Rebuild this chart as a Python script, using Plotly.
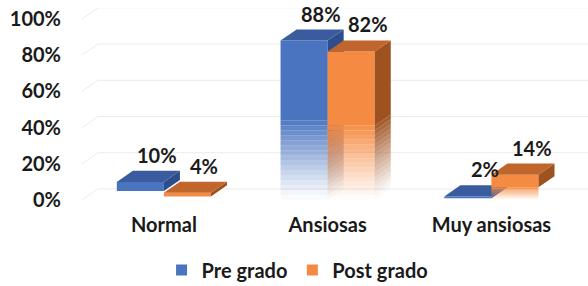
import plotly.graph_objects as go

# ---------------- data ----------------
categories = ["Normal", "Ansiosas", "Muy ansiosas"]
pre_grado = [10, 88, 2]
post_grado = [4, 82, 14]
series_names = ["Pre grado", "Post grado"]
y_ticks = [0, 20, 40, 60, 80, 100]
y_tick_labels = ["0%", "20%", "40%", "60%", "80%", "100%"]

# ---------------- style ----------------
FONT = "Lato"
FS = 20
BAR_W = 0.2875      # width of one bar (category units)
DX = 0.098          # 3D depth, x (category units)
DY = 6.1            # 3D depth, y (percent units)
K = 16              # gradient steps
COLORS = [
    {"front": (74, 116, 192), "top": (58, 92, 158), "side": (45, 78, 140)},
    {"front": (245, 139, 66), "top": (192, 101, 44), "side": (158, 82, 32)},
]


def rgba(c, a=1.0):
    return f"rgba({c[0]},{c[1]},{c[2]},{a:.3f})"


def poly_trace(polys, color):
    xs, ys = [], []
    for px, py in polys:
        xs += px + [px[0], None]
        ys += py + [py[0], None]
    return go.Scatter(x=xs, y=ys, mode="lines", line=dict(width=0),
                      fill="toself", fillcolor=color, hoverinfo="skip",
                      showlegend=False)


fig = go.Figure()

# back-wall gridlines (perspective)
gx, gy = [], []
for t in y_ticks:
    gx += [-0.5, -0.5 + DX, 2.6, None]
    gy += [t, t + DY, t + DY, None]
fig.add_trace(go.Scatter(x=gx, y=gy, mode="lines",
                         line=dict(color="#ebebeb", width=1),
                         hoverinfo="skip", showlegend=False))

all_values = [pre_grado, post_grado]
for s, values in enumerate(all_values):
    col = COLORS[s]
    offset = -BAR_W / 2 if s == 0 else BAR_W / 2
    xl = [i + offset - BAR_W / 2 for i in range(len(categories))]
    xr = [i + offset + BAR_W / 2 for i in range(len(categories))]
    # fading lower half: front + side segments
    for k in range(K):
        a = ((k + 0.6) / (K + 0.6)) ** 1.1
        fronts, sides = [], []
        for i, v in enumerate(values):
            y0 = v * k / (2 * K)
            y1 = v * (k + 1) / (2 * K)
            fronts.append(([xl[i], xr[i], xr[i], xl[i]], [y0, y0, y1, y1]))
            sides.append(([xr[i], xr[i] + DX, xr[i] + DX, xr[i]],
                          [y0, y0 + DY, y1 + DY, y1]))
        fig.add_trace(poly_trace(fronts, rgba(col["front"], a)))
        fig.add_trace(poly_trace(sides, rgba(col["side"], a)))
    # solid upper half
    fronts, sides, tops = [], [], []
    for i, v in enumerate(values):
        y0, y1 = v / 2, v
        fronts.append(([xl[i], xr[i], xr[i], xl[i]], [y0, y0, y1, y1]))
        sides.append(([xr[i], xr[i] + DX, xr[i] + DX, xr[i]],
                      [y0, y0 + DY, y1 + DY, y1]))
        tops.append(([xl[i], xr[i], xr[i] + DX, xl[i] + DX],
                     [v, v, v + DY, v + DY]))
    fig.add_trace(poly_trace(fronts, rgba(col["front"])))
    fig.add_trace(poly_trace(sides, rgba(col["side"])))
    fig.add_trace(poly_trace(tops, rgba(col["top"])))
    # legend entry
    fig.add_trace(go.Scatter(x=[None], y=[None], mode="markers", name=series_names[s],
                             marker=dict(symbol="square", size=11,
                                         color=rgba(col["front"]))))
    # data labels
    for i, v in enumerate(values):
        fig.add_annotation(x=i + offset, y=v, text=f"{v}%", showarrow=False,
                           xshift=17, yshift=27, yanchor="middle",
                           font=dict(family=FONT, size=FS, color="#1a1a1a",
                                     weight="bold"))

fig.update_layout(
    width=588, height=286,
    margin=dict(l=82, r=0, t=8, b=86, autoexpand=False),
    paper_bgcolor="white", plot_bgcolor="white",
    font=dict(family=FONT, size=FS, color="#1a1a1a", weight="bold"),
    xaxis=dict(range=[-0.5, 2.59], tickvals=list(range(len(categories))),
               ticktext=categories, showgrid=False, zeroline=False,
               showline=False, ticks="", ticklabelstandoff=11, automargin=False,
               tickfont=dict(family=FONT, size=FS, color="#1a1a1a", weight="bold")),
    yaxis=dict(range=[0, 106], tickvals=y_ticks, ticktext=y_tick_labels,
               showgrid=False, zeroline=False, showline=False, ticks="",
               ticklabelstandoff=20, automargin=False,
               tickfont=dict(family=FONT, size=FS, color="#1a1a1a", weight="bold")),
    legend=dict(orientation="h", x=0.426, xanchor="center", y=-0.365,
                yanchor="middle", font=dict(family=FONT, size=FS, color="#1a1a1a",
                                            weight="bold"),
                itemwidth=30, tracegroupgap=0),
    showlegend=True,
)

fig.write_html("out.html", config={"displayModeBar": False},
               post_script="document.body.style.margin='0';")
